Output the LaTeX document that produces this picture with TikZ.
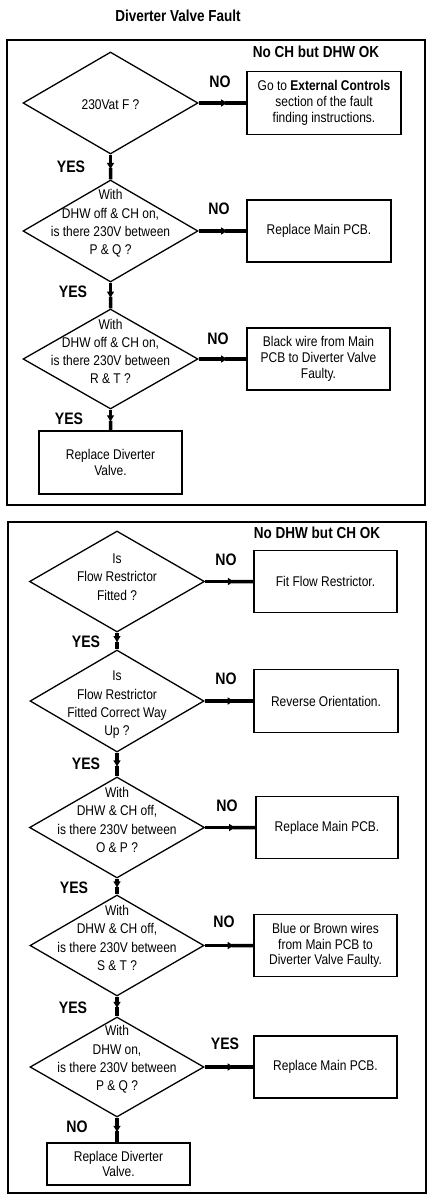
\documentclass[tikz,border=0pt]{standalone}
\usepackage{fontspec}
\setmainfont{Liberation Sans}[FakeStretch=0.85]
\usetikzlibrary{shapes.geometric,arrows.meta,calc}
\newcommand\fReg{\fontsize{14.1}{15.7}\selectfont}
\newcommand\fDia{\fontsize{14.1}{18.3}\selectfont}
\newcommand\fLbl{\fontsize{16.6}{19}\selectfont\bfseries}
\newcommand\fTtl{\fontsize{15.9}{18}\selectfont\bfseries}
% connector: thick line with an arrowhead part way along
\newcommand\connect[2]{%
  \draw[conn, -{Latex[length=7pt,width=8pt]}] (#1) -- ($(#1)!0.62!(#2)$);
  \draw[conn] ($(#1)!0.55!(#2)$) -- (#2);}
\begin{document}
\begin{tikzpicture}[x=1pt,y=1pt,
  frame/.style={draw, line width=2pt},
  res/.style={draw, line width=1.9pt, inner sep=0pt, align=center, font=\fReg},
  dia/.style={draw, shape=diamond, line width=1.3pt, inner sep=0pt},
  dtext/.style={align=center, font=\fDia, inner sep=0pt},
  lab/.style={font=\fLbl, inner sep=0pt},
  ttl/.style={font=\fTtl, inner sep=0pt},
  conn/.style={line width=3.5pt}
]
\useasboundingbox (0,0) rectangle (436,-1198);

% title
\node[ttl] (title) at (178,-16) {Diverter Valve Fault};

% ===== section 1 =====
\node[frame, minimum width=418pt, minimum height=465pt, inner sep=0pt] (sec1) at (216,-272.5) {};
\node[ttl] (h1) at (316,-52) {No CH but DHW OK};

\node[dia, minimum width=175pt, minimum height=102pt] (d1) at (110.5,-103) {};
\node[dtext] (t1) at (110.5,-105) {230Vat F ?};
\node[res, minimum width=154pt, minimum height=63pt] (b1) at (324,-103) {Go to \textbf{External Controls}\\section of the fault\\finding instructions.};
\node[lab] (n1) at (220,-82) {NO};

\node[lab] (y1) at (71,-167) {YES};
\node[dia, minimum width=175pt, minimum height=102pt] (d2) at (110.5,-231) {};
\node[dtext] (t2) at (110.5,-223.5) {With\\DHW off \& CH on,\\is there 230V between\\P \& Q ?};
\node[res, minimum width=144pt, minimum height=62pt] (b2) at (319,-231) {Replace Main PCB.};
\node[lab] (n2) at (219,-209) {NO};

\node[lab] (y2) at (73,-292) {YES};
\node[dia, minimum width=175pt, minimum height=100pt] (d3) at (110.5,-359) {};
\node[dtext] (t3) at (110.5,-351.5) {With\\DHW off \& CH on,\\is there 230V between\\R \& T ?};
\node[res, minimum width=143pt, minimum height=62pt] (b3) at (318.5,-359) {Black wire from Main\\PCB to Diverter Valve\\Faulty.};
\node[lab] (n3) at (218,-339) {NO};

\node[lab] (y3) at (69,-419) {YES};
\node[res, minimum width=143pt, minimum height=63pt] (b4) at (110.5,-462.5) {Replace Diverter\\Valve.};

\connect{d1.east}{d1.east -| b1.west}
\connect{d1.south}{d2.north}
\connect{d2.east}{d2.east -| b2.west}
\connect{d2.south}{d3.north}
\connect{d3.east}{d3.east -| b3.west}
\connect{d3.south}{b4.north}

% ===== section 2 =====
\node[frame, minimum width=418pt, minimum height=671pt, inner sep=0pt] (sec2) at (217,-857.5) {};
\node[ttl] (h2) at (317,-533) {No DHW but CH OK};

\node[dia, minimum width=175pt, minimum height=101pt] (d4) at (117,-581.5) {};
\node[dtext] (t4) at (117,-577) {Is\\Flow Restrictor\\Fitted ?};
\node[res, minimum width=143pt, minimum height=62pt] (b5) at (325.5,-581.5) {Fit Flow Restrictor.};
\node[lab] (n4) at (226,-560) {NO};

\node[lab] (y4) at (86,-642) {YES};
\node[dia, minimum width=174pt, minimum height=102pt] (d5) at (117,-701) {};
\node[dtext] (t5) at (117,-705) {Is\\Flow Restrictor\\Fitted Correct Way\\Up ?};
\node[res, minimum width=144pt, minimum height=63pt] (b6) at (326,-701) {Reverse Orientation.};
\node[lab] (n5) at (226,-679) {NO};

\node[lab] (y5) at (86,-764) {YES};
\node[dia, minimum width=175pt, minimum height=101pt] (d6) at (117,-827.5) {};
\node[dtext] (t6) at (117,-820) {With\\DHW \& CH off,\\is there 230V between\\O \& P ?};
\node[res, minimum width=142pt, minimum height=62pt] (b7) at (327,-827.5) {Replace Main PCB.};
\node[lab] (n6) at (227,-806) {NO};

\node[lab] (y6) at (74,-888) {YES};
\node[dia, minimum width=174pt, minimum height=101pt] (d7) at (117,-945.5) {};
\node[dtext] (t7) at (117,-938) {With\\DHW \& CH off,\\is there 230V between\\S \& T ?};
\node[res, minimum width=143pt, minimum height=62pt] (b8) at (325.5,-945.5) {Blue or Brown wires\\from Main PCB to\\Diverter Valve Faulty.};
\node[lab] (n7) at (224,-922) {NO};

\node[lab] (y7) at (73,-1008) {YES};
\node[dia, minimum width=174pt, minimum height=100pt] (d8) at (117,-1067) {};
\node[dtext] (t8) at (117,-1059.5) {With\\DHW on,\\is there 230V between\\P \& Q ?};
\node[res, minimum width=143pt, minimum height=62pt] (b9) at (325.5,-1067) {Replace Main PCB.};
\node[lab] (y8) at (225,-1044) {YES};

\node[lab] (n8) at (77,-1127) {NO};
\node[res, minimum width=143pt, minimum height=42pt] (b10) at (118.5,-1164) {Replace Diverter\\Valve.};

\connect{d4.east}{d4.east -| b5.west}
\connect{d4.south}{d5.north}
\connect{d5.east}{d5.east -| b6.west}
\connect{d5.south}{d6.north}
\connect{d6.east}{d6.east -| b7.west}
\connect{d6.south}{d7.north}
\connect{d7.east}{d7.east -| b8.west}
\connect{d7.south}{d8.north}
\connect{d8.east}{d8.east -| b9.west}
\connect{d8.south}{d8.south |- b10.north}
\end{tikzpicture}
\end{document}
